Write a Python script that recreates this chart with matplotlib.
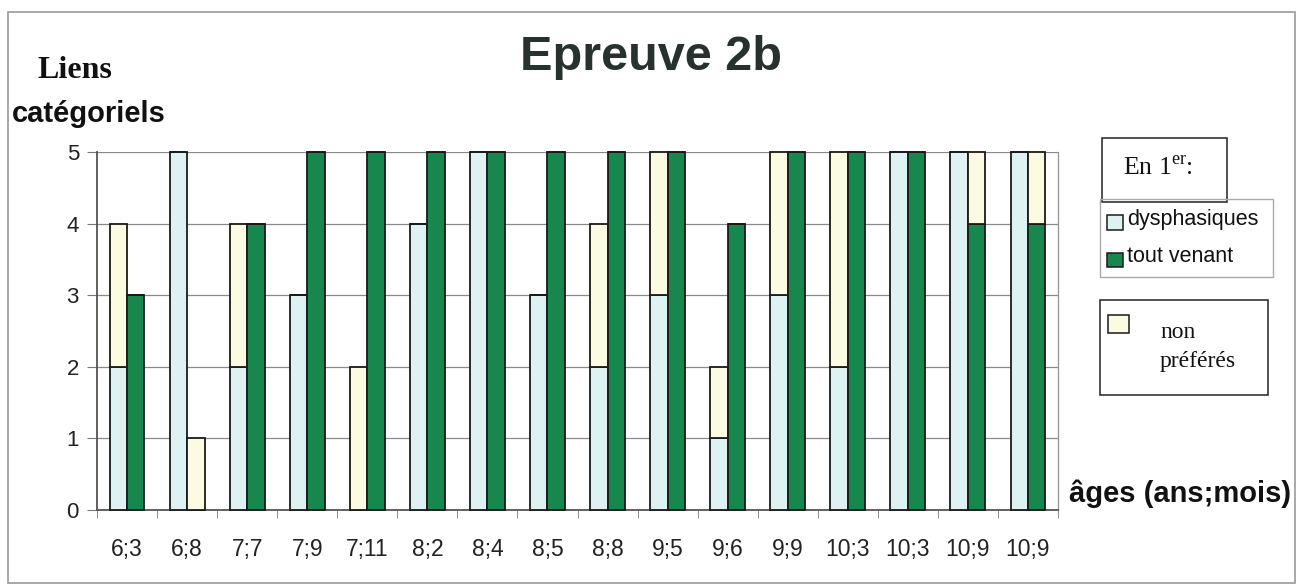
import matplotlib
matplotlib.use("Agg")
import matplotlib.pyplot as plt
import numpy as np
from matplotlib.patches import Rectangle

AGES = ["6;3", "6;8", "7;7", "7;9", "7;11", "8;2", "8;4", "8;5",
        "8;8", "9;5", "9;6", "9;9", "10;3", "10;3", "10;9", "10;9"]
# left bar: dysphasiques, with "non préférés" stacked on top
DYS = [2, 5, 2, 3, 0, 4, 5, 3, 2, 3, 1, 3, 2, 5, 5, 5]
DYS_NP = [2, 0, 2, 0, 2, 0, 0, 0, 2, 2, 1, 2, 3, 0, 0, 0]
# right bar: tout venant, with "non préférés" stacked on top
TV = [3, 0, 4, 5, 5, 5, 5, 5, 5, 5, 4, 5, 5, 5, 4, 4]
TV_NP = [0, 1, 0, 0, 0, 0, 0, 0, 0, 0, 0, 0, 0, 0, 1, 1]
YTICKS = [0, 1, 2, 3, 4, 5]

C_DYS = "#def2f3"
C_TV = "#17874d"
C_NP = "#fcfae0"
EDGE = "#1a1a1a"

plt.rcParams["mathtext.fontset"] = "custom"
plt.rcParams["mathtext.rm"] = "Liberation Serif"

W, H = 1297, 586
fig = plt.figure(figsize=(W / 100, H / 100), dpi=100)
fig.patch.set_facecolor("white")

# overlay in pixel coords for the frame, titles and hand-made legend boxes
ann = fig.add_axes([0, 0, 1, 1], zorder=0)
ann.set_xlim(0, W)
ann.set_ylim(H, 0)
ann.axis("off")

ax = fig.add_axes([97 / W, 1 - 510 / H, (1058 - 97) / W, (510 - 152) / H], zorder=1)
ax.patch.set_alpha(0)

x = np.arange(len(AGES))
bw = 0.29
dys = np.array(DYS, dtype=float)
tv = np.array(TV, dtype=float)
kw = dict(width=bw, edgecolor=EDGE, linewidth=1.3, zorder=3, clip_on=False)
ax.bar(x - bw / 2, dys, color=C_DYS, **kw)
ax.bar(x - bw / 2, DYS_NP, bottom=dys, color=C_NP, **kw)
ax.bar(x + bw / 2, tv, color=C_TV, **kw)
ax.bar(x + bw / 2, TV_NP, bottom=tv, color=C_NP, **kw)

ax.set_xlim(-0.5, len(AGES) - 0.5)
ax.set_ylim(0, 5)
ax.set_yticks(YTICKS)
ax.set_yticklabels([str(v) for v in YTICKS], fontsize=16, family="Liberation Sans", color="#222")
ax.tick_params(axis="y", length=7, color="#777", pad=6)
ax.set_xticks(x)
ax.set_xticklabels(AGES, fontsize=16.5, family="Liberation Sans", color="#222")
ax.set_xticks(np.arange(len(AGES) + 1) - 0.5, minor=True)
ax.tick_params(axis="x", which="major", length=0, pad=20)
ax.tick_params(axis="x", which="minor", length=6, color="#777")
ax.yaxis.grid(True, color="#8a8a8a", linewidth=0.9, zorder=0)
ax.set_axisbelow(True)
for side in ["left", "bottom"]:
    ax.spines[side].set_color("#555")
    ax.spines[side].set_linewidth(1.3)
ax.spines["top"].set_visible(False)
ax.spines["right"].set_color("#9a9a9a")
ax.spines["right"].set_linewidth(1.0)

# outer frame
ann.add_patch(Rectangle((8, 12), 1287, 571, fill=False, edgecolor="#9a9a9a", linewidth=1.2))

ann.text(651, 58, "Epreuve 2b", fontsize=35, fontweight="bold", family="Liberation Sans",
         color="#27322f", ha="center", va="center")
ann.text(38, 70, "Liens", fontsize=23, fontweight="bold", family="Liberation Serif",
         color="#111", ha="left", va="center")
ann.text(12, 114, "catégoriels", fontsize=21, fontweight="bold", family="Liberation Sans",
         color="#111", ha="left", va="center")
ann.text(1069, 494, "âges (ans;mois)", fontsize=21, fontweight="bold", family="Liberation Sans",
         color="#111", ha="left", va="center")

# legend: "En 1er:"
ann.add_patch(Rectangle((1102, 138), 125, 64, fill=False, edgecolor="#222", linewidth=1.1))
ann.text(1123, 168, r"En 1$^{\mathrm{er}}$:", fontsize=18.5, family="Liberation Serif",
         color="#111", ha="left", va="center")

# legend: series
ann.add_patch(Rectangle((1100, 199), 173, 78, fill=False, edgecolor="#aaa", linewidth=1.0))
ann.add_patch(Rectangle((1107, 215), 16, 15, facecolor=C_DYS, edgecolor=EDGE, linewidth=1.1))
ann.text(1127, 220, "dysphasiques", fontsize=15.5, family="Liberation Sans", color="#111",
         ha="left", va="center")
ann.add_patch(Rectangle((1107, 253), 16, 14, facecolor=C_TV, edgecolor=EDGE, linewidth=1.1))
ann.text(1127, 257, "tout venant", fontsize=15.5, family="Liberation Sans", color="#111",
         ha="left", va="center")

# legend: non préférés
ann.add_patch(Rectangle((1100, 300), 168, 95, fill=False, edgecolor="#222", linewidth=1.1))
ann.add_patch(Rectangle((1108, 315), 21, 18, facecolor=C_NP, edgecolor=EDGE, linewidth=1.1))
ann.text(1160, 333, "non", fontsize=17, family="Liberation Serif", color="#111",
         ha="left", va="center")
ann.text(1160, 361, "préférés", fontsize=17, family="Liberation Serif", color="#111",
         ha="left", va="center")

fig.savefig("out.png", dpi=100)
